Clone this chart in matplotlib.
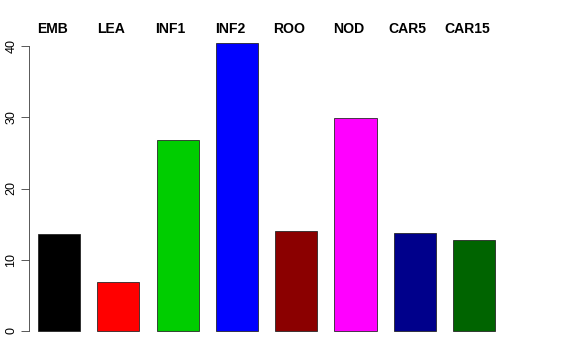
import matplotlib
matplotlib.use("Agg")
import matplotlib.pyplot as plt

tissues = ["EMB", "LEA", "INF1", "INF2", "ROO", "NOD", "CAR5", "CAR15"]
counts = [13.6, 6.9, 26.85, 40.4, 14.1, 29.9, 13.7, 12.8]
colors = ["#000000", "#FF0000", "#00CD00", "#0000FF", "#8B0000", "#FF00FF", "#00008B", "#006400"]
yticks = [0, 10, 20, 30, 40]

plt.rcParams['font.family'] = ['Liberation Sans', 'DejaVu Sans']

W, H = 576, 360
fig = plt.figure(figsize=(W / 72, H / 72), dpi=72)
# axes placed in pixel coords: left spine at x=28.5, y=0 at row 331
left, right, top, bottom = 28.5, 520, 30, 331
ax = fig.add_axes([left / W, 1 - bottom / H, (right - left) / W, (bottom - top) / H])

pos = list(range(len(tissues)))
ax.bar(pos, counts, width=0.71, color=colors, edgecolor="#222222", linewidth=0.8, clip_on=False)

px_per_unit = 59.3
ax.set_xlim(-(59 - left) / px_per_unit, -(59 - left) / px_per_unit + (right - left) / px_per_unit)
ax.set_ylim(0, 40 * (bottom - top) / 285.0)

for s in ["top", "right", "bottom"]:
    ax.spines[s].set_visible(False)
ax.spines["left"].set_bounds(0, 40)
ax.spines["left"].set_color("#333333")
ax.set_xticks([])
ax.set_yticks(yticks)
ax.set_yticklabels([str(t) for t in yticks], rotation=90, va="center", fontsize=12.5)
ax.tick_params(axis="y", length=8, width=0.8, color="#333333", pad=3)

for i, name in enumerate(tissues):
    ax.annotate(name, xy=(i, 0), xycoords=("data", "figure pixels"),
                xytext=(-7, H - 29), textcoords="offset pixels",
                ha="center", va="center", fontsize=14, fontweight="bold")

fig.savefig("out.png", dpi=72)
